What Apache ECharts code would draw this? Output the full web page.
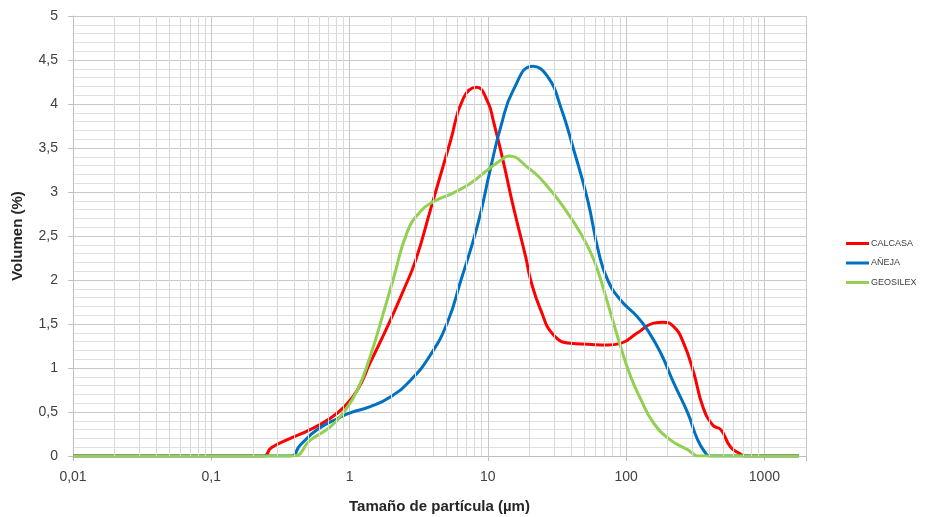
<!DOCTYPE html>
<html>
<head>
<meta charset="utf-8">
<script src="https://cdn.jsdelivr.net/npm/echarts@6/dist/echarts.min.js"></script>
<style>
html,body{margin:0;padding:0;background:#fff;}
#chart{width:927px;height:517px;}
</style>
</head>
<body>
<div id="chart"></div>
<script>
// Particle size (µm) / volume (%) pairs
const seriesNames = ['CALCASA', 'AÑEJA', 'GEOSILEX'];
const calcasa = [[0.01,0],[0.24,0],[0.27,0.09],[0.373,0.2],[0.52,0.3],[0.726,0.43],[0.902,0.55],[1.14,0.75],[1.41,1.06],[1.88,1.47],[2.45,1.88],[3.0,2.22],[3.85,2.8],[5.37,3.58],[6.67,4.07],[8.28,4.19],[9.95,4.03],[11.0,3.8],[13.0,3.33],[15.3,2.83],[18.8,2.26],[20.4,2.0],[24.1,1.66],[29.9,1.375],[39.7,1.28],[52.7,1.27],[73.6,1.26],[91.4,1.28],[121,1.40],[158,1.51],[184,1.52],[221,1.47],[261,1.28],[309,0.94],[359,0.56],[424,0.35],[484,0.30],[571,0.10],[676,0.02],[720,0],[1780,0]];
const aneja = [[0.01,0],[0.373,0],[0.44,0.125],[0.585,0.3],[0.857,0.44],[1.01,0.49],[1.41,0.56],[1.97,0.67],[2.76,0.86],[3.85,1.15],[5.11,1.52],[6.34,1.98],[8.42,2.62],[10.5,3.28],[12.4,3.74],[15.3,4.16],[21.1,4.43],[27.1,4.31],[33.6,3.97],[41.8,3.48],[52.7,2.91],[63.4,2.31],[73.6,2.0],[91.4,1.77],[121,1.58],[143,1.43],[178,1.17],[221,0.83],[279,0.49],[330,0.18],[377,0.03],[400,0],[1780,0]];
const geosilex = [[0.01,0],[0.39,0],[0.52,0.18],[0.726,0.33],[0.902,0.49],[1.14,0.75],[1.41,1.13],[1.76,1.63],[2.08,2.02],[2.62,2.55],[3.26,2.78],[4.04,2.89],[5.65,2.99],[7.5,3.10],[9.95,3.25],[12.4,3.36],[14.1,3.41],[19.4,3.28],[27.1,3.06],[37.8,2.76],[46.9,2.53],[55.5,2.31],[62.3,2.11],[77.4,1.62],[91.4,1.24],[108,0.9],[128,0.64],[158,0.375],[210,0.18],[279,0.07],[309,0.02],[330,0],[1780,0]];
const xTickLabels = ['0,01','0,1','1','10','100','1000'];
const yTickLabels = ['0','0,5','1','1,5','2','2,5','3','3,5','4','4,5','5'];

const colors = ['#FF0000', '#0070C0', '#92D050'];

// minor log gridline positions 2..9 per decade
const minorX = [];
for (let d = -2; d <= 3; d++) {
  for (let k = 2; k <= 9; k++) {
    const v = k * Math.pow(10, d);
    if (v < 2000) minorX.push({xAxis: v});
  }
}

function fmtX(v) {
  const lg = Math.log10(v);
  if (Math.abs(lg - Math.round(lg)) > 1e-6) return '';
  const idx = Math.round(lg) + 2;
  return xTickLabels[idx] || '';
}
function fmtY(v) {
  const idx = Math.round(v * 2);
  return yTickLabels[idx] !== undefined ? yTickLabels[idx] : '';
}

const chart = echarts.init(document.getElementById('chart'), null, {renderer: 'canvas'});
const datasets = [calcasa, aneja, geosilex];
const lineSeries = seriesNames.map((n, i) => ({
  name: n,
  type: 'line',
  data: datasets[i],
  smooth: 0.5,
  showSymbol: false,
  symbol: 'none',
  lineStyle: {color: colors[i], width: 3},
  itemStyle: {color: colors[i]},
  z: 3
}));

chart.setOption({
  animation: false,
  backgroundColor: '#ffffff',
  grid: {left: 73, top: 16, width: 733, height: 440, show: false, containLabel: false, outerBoundsMode: 'none'},
  legend: {
    orient: 'vertical',
    left: 841,
    top: 234,
    data: seriesNames,
    icon: 'rect',
    itemWidth: 23,
    itemHeight: 3,
    itemGap: 10.5,
    textStyle: {fontFamily: 'Liberation Sans, Arial', fontSize: 9, color: '#404040', padding: [0,0,0,-3]}
  },
  xAxis: {
    type: 'log',
    logBase: 10,
    min: 0.01,
    max: 2000,
    interval: 1,
    name: 'Tamaño de partícula (µm)',
    nameLocation: 'middle',
    nameGap: 43,
    nameTextStyle: {fontFamily: 'Liberation Sans, Arial', fontSize: 15, fontWeight: 'bold', color: '#262626'},
    axisLine: {show: true, lineStyle: {color: '#bfbfbf', width: 1}},
    axisTick: {show: true, length: 5, lineStyle: {color: '#bfbfbf'}},
    axisLabel: {formatter: fmtX, fontFamily: 'Liberation Sans, Arial', fontSize: 14, color: '#404040', margin: 14, showMaxLabel: true},
    splitLine: {show: true, lineStyle: {color: '#c8c8c8', width: 1}}
  },
  yAxis: {
    type: 'value',
    min: 0,
    max: 5,
    interval: 0.5,
    name: 'Volumen (%)',
    nameLocation: 'middle',
    nameGap: 48,
    nameRotate: 90,
    nameTextStyle: {fontFamily: 'Liberation Sans, Arial', fontSize: 15, fontWeight: 'bold', color: '#262626'},
    axisLine: {show: true, lineStyle: {color: '#bfbfbf', width: 1}},
    axisTick: {show: true, length: 5, lineStyle: {color: '#bfbfbf'}},
    axisLabel: {formatter: fmtY, fontFamily: 'Liberation Sans, Arial', fontSize: 14, color: '#404040', margin: 15},
    splitLine: {show: true, lineStyle: {color: '#c8c8c8', width: 1}},
    minorTick: {show: false, splitNumber: 5},
    minorSplitLine: {show: true, lineStyle: {color: '#e0e0e0', width: 1}}
  },
  series: [{
    name: '_grid',
    type: 'line',
    data: [],
    z: 1,
    silent: true,
    markLine: {
      silent: true,
      symbol: 'none',
      animation: false,
      label: {show: false},
      lineStyle: {color: '#dadada', width: 1, type: 'solid'},
      emphasis: {disabled: true},
      data: minorX
    }
  }].concat(lineSeries)
});
</script>
</body>
</html>
